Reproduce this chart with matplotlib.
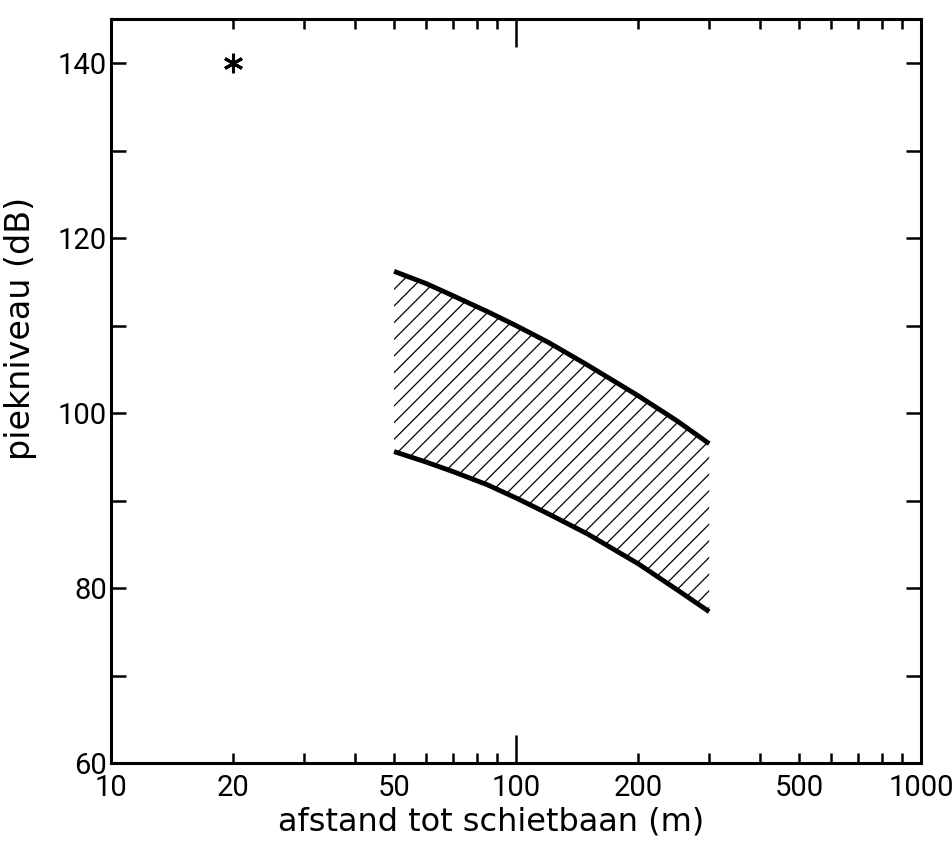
"""
Piekniveau versus afstand tot schietbaan (log-schaal), gearceerde band.
"""

import matplotlib
matplotlib.use("Agg")
import matplotlib.pyplot as plt
from matplotlib.ticker import FixedLocator, FuncFormatter, NullFormatter

plt.rcParams.update({
    "font.family": ["Roboto", "DejaVu Sans"],
    "font.size": 21,
    "hatch.linewidth": 0.9,
})

# afstand (m) en grenzen van de band (dB)
afstand = [50, 60, 70, 85, 100, 120, 150, 200, 250, 300]
band_boven = [116.2, 114.8, 113.4, 111.6, 110.0, 108.1, 105.5, 102.0, 99.1, 96.5]
band_onder = [95.6, 94.4, 93.3, 91.8, 90.3, 88.5, 86.2, 82.8, 79.8, 77.3]

# los meetpunt
punt_afstand = [20]
punt_niveau = [140]

x_major = [10, 100, 1000]
x_minor = [20, 30, 40, 50, 60, 70, 80, 90, 200, 300, 400, 500, 600, 700, 800, 900]
x_minor_labels = {20: "20", 50: "50", 200: "200", 500: "500"}
y_major = [60, 80, 100, 120, 140]
y_minor = [70, 90, 110, 130]

fig = plt.figure(figsize=(9.52, 8.41), dpi=100)
ax = fig.add_axes([0.1166, 0.0927, 0.8508, 0.8843])

ax.fill_between(afstand, band_onder, band_boven, facecolor="none",
                edgecolor="black", hatch="//", linewidth=0)
ax.plot(afstand, band_boven, color="black", lw=3.5, solid_capstyle="butt")
ax.plot(afstand, band_onder, color="black", lw=3.5, solid_capstyle="butt")
ax.plot(punt_afstand, punt_niveau, linestyle="none", marker=(6, 2, 0),
        markersize=14, markeredgewidth=2.2, color="black")

ax.set_xscale("log")
ax.set_xlim(10, 1000)
ax.set_ylim(60, 145)

ax.xaxis.set_major_locator(FixedLocator(x_major))
ax.xaxis.set_minor_locator(FixedLocator(x_minor))
ax.xaxis.set_major_formatter(FuncFormatter(lambda v, p: f"{v:.0f}"))
ax.xaxis.set_minor_formatter(FuncFormatter(lambda v, p: x_minor_labels.get(int(round(v)), "")))
ax.yaxis.set_major_locator(FixedLocator(y_major))
ax.yaxis.set_minor_locator(FixedLocator(y_minor))
ax.yaxis.set_minor_formatter(NullFormatter())

ax.tick_params(axis="x", which="major", direction="in", length=20, width=1.8,
               top=True, bottom=True, pad=8, labelsize=21)
ax.tick_params(axis="x", which="minor", direction="in", length=7, width=1.8,
               top=True, bottom=True, pad=8, labelsize=21)
ax.tick_params(axis="y", which="both", direction="in", length=11, width=1.8,
               left=True, right=True, pad=3, labelsize=21)

for s in ax.spines.values():
    s.set_linewidth(2.2)

ax.set_xlabel("afstand tot schietbaan (m)", fontsize=23, family="DejaVu Sans")
ax.set_ylabel("piekniveau (dB)", fontsize=24, family="DejaVu Sans")
ax.xaxis.set_label_coords(0.469, -0.058)
ax.yaxis.set_label_coords(-0.091, 0.585)

fig.savefig("out.png", dpi=100)
